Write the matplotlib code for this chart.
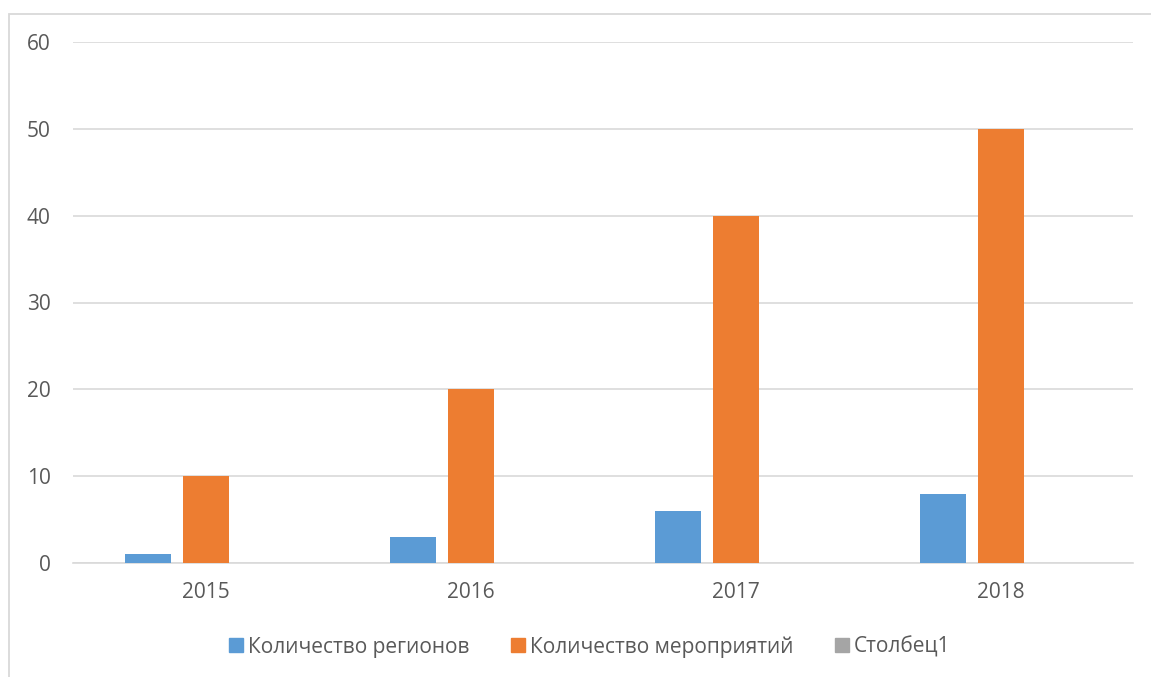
import matplotlib
matplotlib.use("Agg")
import matplotlib.pyplot as plt
from matplotlib.patches import Rectangle, Patch
import numpy as np

years = ["2015", "2016", "2017", "2018"]
regions = [1, 3, 6, 8]
events = [10, 20, 40, 50]
column1 = [0, 0, 0, 0]
series_names = ["Количество регионов", "Количество мероприятий", "Столбец1"]
colors = ["#5b9bd5", "#ed7d31", "#a5a5a5"]
yticks = [0, 10, 20, 30, 40, 50, 60]

plt.rcParams['font.family'] = ['Open Sans', 'DejaVu Sans']
text_color = "#595959"
fs = 15

W, H = 1151, 677
fig = plt.figure(figsize=(W / 100, H / 100), dpi=100)

# chart border (cropped on right/bottom)
fig.patches.append(Rectangle((8.5 / W, -0.05), 2, 1 - 13.5 / H + 0.05,
                             transform=fig.transFigure, fill=False,
                             edgecolor="#d9d9d9", linewidth=1.3))

left, right, top, bottom = 73, 1133, 42, 563
ax = fig.add_axes([left / W, 1 - bottom / H, (right - left) / W, (bottom - top) / H])

x = np.arange(len(years))
bw = 46 / 265
step = 58 / 265
for i, (vals, c, name) in enumerate(zip([regions, events, column1], colors, series_names)):
    ax.bar(x + (i - 1) * step, vals, width=bw, color=c, label=name, zorder=3)

ax.set_xlim(-0.5, len(years) - 0.5)
ax.set_ylim(0, 60)
ax.set_yticks(yticks)
ax.set_xticks(x)
ax.set_xticklabels(years)
ax.yaxis.grid(True, color="#d9d9d9", linewidth=1.2, zorder=0)
for s in ["top", "right", "left"]:
    ax.spines[s].set_visible(False)
ax.spines["bottom"].set_color("#d9d9d9")
ax.spines["bottom"].set_linewidth(1.2)
ax.tick_params(axis="both", length=0, labelsize=fs, colors=text_color)
ax.tick_params(axis="y", pad=16)
ax.tick_params(axis="x", pad=14)

handles = [Patch(color=c) for c in colors]
fig.legend(handles, series_names, ncol=3, loc="center", bbox_to_anchor=(590 / W, 1 - 647 / H),
           frameon=False, fontsize=fs, labelcolor=text_color, handlelength=0.65,
           handleheight=0.65, handletextpad=0.25, columnspacing=2.0)

fig.savefig("out.png", dpi=100, facecolor="white")
